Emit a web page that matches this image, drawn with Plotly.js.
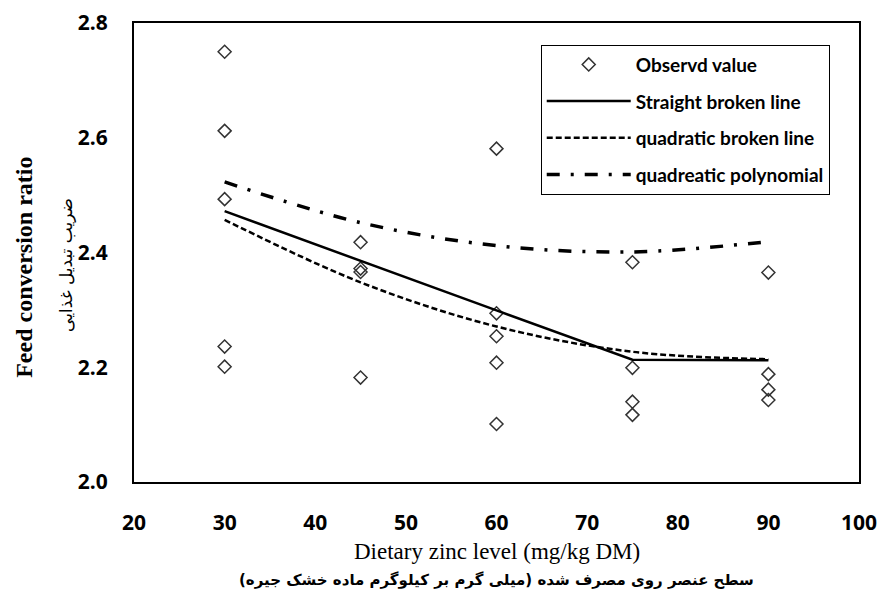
<!DOCTYPE html>
<html>
<head>
<meta charset="utf-8">
<script src="https://cdn.plot.ly/plotly-3.0.1.min.js"></script>
<style>
  html, body { margin: 0; padding: 0; background: #fff; }
  #chart { width: 879px; height: 606px; }
</style>
</head>
<body>
<div id="chart"></div>
<script>
// Observed values (dietary zinc level, feed conversion ratio)
const obsX = [30, 30, 30, 30, 30,
              45, 45, 45, 45,
              60, 60, 60, 60, 60,
              75, 75, 75, 75,
              90, 90, 90, 90];
const obsY = [2.750, 2.612, 2.493, 2.236, 2.201,
              2.418, 2.372, 2.366, 2.182,
              2.581, 2.294, 2.254, 2.208, 2.101,
              2.383, 2.199, 2.140, 2.117,
              2.365, 2.188, 2.161, 2.143];

// Fitted models
const fitX = [30, 45, 60, 75, 90];
const straightBroken = [2.472, 2.385, 2.299, 2.213, 2.212];
const quadraticBroken = [2.457, 2.348, 2.271, 2.227, 2.214];
const quadraticPoly = [2.523, 2.452, 2.412, 2.401, 2.419];

// Labels
const seriesNames = ["Observd value", "Straight broken line", "quadratic broken line", "quadreatic polynomial"];
const xTitle = "Dietary zinc level (mg/kg DM)";
const xTitleFa = "سطح عنصر روی مصرف شده (میلی گرم بر کیلوگرم ماده خشک جیره)";
const yTitle = "Feed conversion ratio";
const yTitleFa = "ضریب تبدیل غذایی";
const xTicks = [20, 30, 40, 50, 60, 70, 80, 90, 100];
const yTicks = [2.0, 2.2, 2.4, 2.6, 2.8];

const traces = [
  {
    x: obsX, y: obsY, type: "scatter", mode: "markers", name: seriesNames[0],
    legendgroup: "a",
    marker: { symbol: "diamond-open", size: 10, color: "#333333", line: { width: 1.5, color: "#333333" } }
  },
  {
    x: fitX, y: straightBroken, type: "scatter", mode: "lines", name: seriesNames[1],
    legendgroup: "b",
    line: { color: "#000000", width: 2.5 }
  },
  {
    x: fitX, y: quadraticBroken, type: "scatter", mode: "lines", name: seriesNames[2],
    legendgroup: "c",
    line: { color: "#000000", width: 2.5, dash: "6px,3px", shape: "spline" }
  },
  {
    x: fitX, y: quadraticPoly, type: "scatter", mode: "lines", name: seriesNames[3],
    legendgroup: "d",
    line: { color: "#000000", width: 3.5, dash: "13px,11px,3px,11px", shape: "spline" }
  }
];

const serif = "'Liberation Serif', 'Times New Roman', serif";
const layout = {
  width: 879, height: 606,
  margin: { l: 134, r: 20, t: 23, b: 124 },
  paper_bgcolor: "#ffffff",
  plot_bgcolor: "#ffffff",
  showlegend: true,
  legend: {
    x: 0.561, y: 0.953, xanchor: "left", yanchor: "top",
    bordercolor: "#000000", borderwidth: 1, bgcolor: "#ffffff",
    font: { family: "Lato, 'Open Sans', sans-serif", size: 19, color: "#000000", weight: "bold" },
    itemwidth: 84, tracegroupgap: 9
  },
  xaxis: {
    range: [20, 100], tickvals: xTicks, ticktext: xTicks.map(String),
    showgrid: false, zeroline: false, ticks: "",
    showline: true, mirror: true, linecolor: "#000000", linewidth: 2,
    ticklabelstandoff: 21,
    tickfont: { family: "'Open Sans', sans-serif", size: 21, color: "#000000", weight: "bold" }
  },
  yaxis: {
    range: [2.0, 2.8], tickvals: yTicks, ticktext: yTicks.map(v => v.toFixed(1)),
    showgrid: false, zeroline: false, ticks: "",
    showline: true, mirror: true, linecolor: "#000000", linewidth: 2,
    ticklabelstandoff: 20,
    tickfont: { family: "'Open Sans', sans-serif", size: 21, color: "#000000", weight: "bold" }
  },
  annotations: [
    { text: xTitle, xref: "paper", yref: "paper", x: 0.5, y: -0.1505, xanchor: "center", yanchor: "middle",
      showarrow: false, font: { family: serif, size: 23, color: "#000000" } },
    { text: "<b>" + xTitleFa + "</b>", xref: "paper", yref: "paper", x: 0.5, y: -0.2137, xanchor: "center", yanchor: "middle",
      showarrow: false, font: { family: "'DejaVu Sans', sans-serif", size: 15, color: "#000000" } },
    { text: "<b>" + yTitle + "</b>", xref: "paper", yref: "paper", x: -0.1517, y: 0.4667, xanchor: "center", yanchor: "middle",
      textangle: -90, showarrow: false, font: { family: serif, size: 24, color: "#000000" } },
    { text: yTitleFa, xref: "paper", yref: "paper", x: -0.0938, y: 0.473, xanchor: "center", yanchor: "middle",
      textangle: -90, showarrow: false, font: { family: "'DejaVu Sans', sans-serif", size: 17, color: "#000000" } }
  ]
};

Plotly.newPlot("chart", traces, layout, { displayModeBar: false, staticPlot: true });
</script>
</body>
</html>
